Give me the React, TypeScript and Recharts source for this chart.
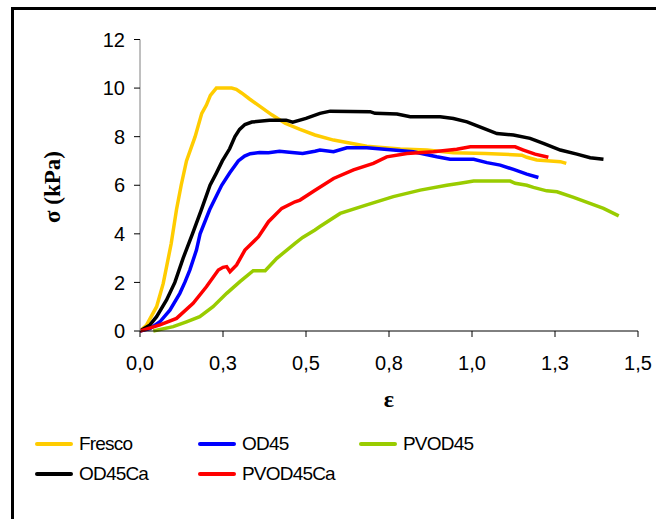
import React from 'react';
import { LineChart, Line, XAxis, YAxis } from 'recharts';

// Strain (ε) and stress σ (kPa) readings for each sample
const frescoEps = [0, 0.02, 0.05, 0.07, 0.094, 0.11, 0.124, 0.14, 0.166, 0.186, 0.2, 0.212, 0.23, 0.255, 0.276, 0.29, 0.306, 0.33, 0.356, 0.397, 0.437, 0.482, 0.527, 0.583, 0.683, 0.784, 0.864, 0.944, 1.04, 1.15, 1.165, 1.195, 1.236, 1.266, 1.284];
const frescoSigma = [0, 0.25, 1.0, 1.96, 3.6, 5.0, 6.0, 7.0, 8.0, 8.96, 9.3, 9.7, 10.0, 10.0, 10.0, 9.95, 9.8, 9.55, 9.3, 8.9, 8.55, 8.3, 8.07, 7.86, 7.61, 7.49, 7.45, 7.34, 7.31, 7.24, 7.15, 7.04, 7.0, 6.97, 6.9];

const od45Eps = [0, 0.03, 0.06, 0.09, 0.12, 0.135, 0.15, 0.17, 0.181, 0.21, 0.246, 0.27, 0.296, 0.315, 0.332, 0.36, 0.387, 0.42, 0.45, 0.49, 0.527, 0.542, 0.583, 0.623, 0.683, 0.763, 0.823, 0.894, 0.934, 1.005, 1.045, 1.085, 1.125, 1.165, 1.2];
const od45Sigma = [0, 0.1, 0.38, 0.86, 1.55, 2.0, 2.51, 3.33, 4.0, 5.0, 6.0, 6.5, 7.0, 7.2, 7.3, 7.35, 7.34, 7.4, 7.36, 7.31, 7.4, 7.45, 7.38, 7.54, 7.54, 7.45, 7.38, 7.17, 7.07, 7.07, 6.93, 6.83, 6.65, 6.46, 6.32];

const pvod45Eps = [0.04, 0.1, 0.14, 0.18, 0.22, 0.261, 0.301, 0.341, 0.377, 0.412, 0.467, 0.49, 0.527, 0.542, 0.603, 0.683, 0.763, 0.844, 0.924, 0.964, 1.005, 1.115, 1.13, 1.165, 1.185, 1.225, 1.256, 1.306, 1.396, 1.442];
const pvod45Sigma = [0, 0.18, 0.38, 0.59, 1.0, 1.55, 2.03, 2.48, 2.48, 2.99, 3.61, 3.85, 4.16, 4.3, 4.84, 5.19, 5.53, 5.8, 6.0, 6.08, 6.17, 6.17, 6.08, 6.0, 5.91, 5.77, 5.73, 5.5, 5.05, 4.74];

const od45CaEps = [0, 0.03, 0.05, 0.08, 0.105, 0.13, 0.158, 0.185, 0.211, 0.23, 0.248, 0.27, 0.286, 0.3, 0.316, 0.337, 0.39, 0.44, 0.46, 0.5, 0.542, 0.573, 0.693, 0.708, 0.774, 0.814, 0.904, 0.944, 0.985, 1.035, 1.075, 1.125, 1.175, 1.215, 1.266, 1.316, 1.356, 1.396];
const od45CaSigma = [0, 0.25, 0.59, 1.28, 2.0, 3.0, 4.0, 5.0, 6.0, 6.5, 7.0, 7.5, 8.0, 8.3, 8.5, 8.6, 8.68, 8.68, 8.6, 8.75, 8.96, 9.05, 9.03, 8.96, 8.93, 8.82, 8.82, 8.75, 8.61, 8.34, 8.13, 8.07, 7.93, 7.72, 7.45, 7.28, 7.13, 7.07];

const pvod45CaEps = [0, 0.06, 0.11, 0.16, 0.2, 0.236, 0.25, 0.261, 0.271, 0.291, 0.316, 0.357, 0.387, 0.427, 0.467, 0.482, 0.525, 0.583, 0.643, 0.703, 0.743, 0.804, 0.884, 0.954, 0.995, 1.005, 1.13, 1.155, 1.19, 1.23];
const pvod45CaSigma = [0, 0.25, 0.52, 1.14, 1.82, 2.51, 2.62, 2.65, 2.44, 2.72, 3.33, 3.88, 4.5, 5.05, 5.32, 5.39, 5.77, 6.28, 6.63, 6.9, 7.17, 7.31, 7.38, 7.48, 7.58, 7.58, 7.58, 7.45, 7.28, 7.15];

const seriesNames = ['Fresco', 'OD45', 'PVOD45', 'OD45Ca', 'PVOD45Ca'];
const seriesColors = ['#FFCC00', '#0000FF', '#99CC00', '#000000', '#FF0000'];

const xTicks = [0, 0.25, 0.5, 0.75, 1.0, 1.25, 1.5];
const xTickLabels = ['0,0', '0,3', '0,5', '0,8', '1,0', '1,3', '1,5'];
const yTicks = [0, 2, 4, 6, 8, 10, 12];

const pair = (eps: number[], sigma: number[]) => eps.map((e, i) => ({ eps: e, sigma: sigma[i] }));

const seriesData = [
  pair(frescoEps, frescoSigma),
  pair(od45Eps, od45Sigma),
  pair(pvod45Eps, pvod45Sigma),
  pair(od45CaEps, od45CaSigma),
  pair(pvod45CaEps, pvod45CaSigma),
];

const sans = '"Liberation Sans", Arial, sans-serif';
const serif = '"Liberation Serif", "Times New Roman", serif';

// legend grid: 3 columns, 2 rows
const legendCols = [35, 198, 359];
const legendRows = [444, 474];

export default function App() {
  return (
    <div style={{ position: 'absolute', left: 0, top: 0, width: 656, height: 519, background: '#fff', overflow: 'hidden' }}>
      <div
        style={{
          position: 'absolute',
          left: 11,
          top: 7,
          width: 700,
          height: 600,
          borderLeft: '3px solid #000',
          borderTop: '3px solid #000',
        }}
      />
      <div style={{ position: 'absolute', left: 0, top: 0 }}>
        <LineChart width={656} height={519} margin={{ top: 39.5, right: 18, left: 80, bottom: 158 }}>
          <XAxis
            type="number"
            dataKey="eps"
            domain={[0, 1.5]}
            ticks={xTicks}
            tickFormatter={(v: number) => xTickLabels[xTicks.indexOf(v)] ?? ''}
            allowDataOverflow
            height={30}
            axisLine={{ stroke: '#000', strokeWidth: 1 }}
            tickLine={{ stroke: '#000', strokeWidth: 1 }}
            tickSize={6}
            tickMargin={19}
            tick={{ fill: '#000', fontSize: 20, fontFamily: sans }}
            label={{
              content: (props: any) => {
                const vb = props.viewBox;
                return (
                  <text x={vb.x + vb.width / 2} y={407} textAnchor="middle" fontFamily={serif} fontWeight="bold" fontSize={24} fill="#000">
                    ε
                  </text>
                );
              },
            }}
          />
          <YAxis
            type="number"
            domain={[0, 12]}
            ticks={yTicks}
            width={60}
            axisLine={{ stroke: '#808080', strokeWidth: 1 }}
            tickLine={{ stroke: '#000', strokeWidth: 1 }}
            tickSize={6}
            tickMargin={9}
            tick={{ fill: '#000', fontSize: 20, fontFamily: sans }}
            label={{
              content: () => (
                <text
                  x={52}
                  y={187}
                  transform="rotate(-90 52 187)"
                  textAnchor="middle"
                  dominantBaseline="central"
                  fontFamily={serif}
                  fontWeight="bold"
                  fontSize={23}
                  fill="#000"
                >
                  σ (kPa)
                </text>
              ),
            }}
          />
          {seriesData.map((d, i) => (
            <Line
              key={seriesNames[i]}
              data={d}
              dataKey="sigma"
              name={seriesNames[i]}
              type="linear"
              stroke={seriesColors[i]}
              strokeWidth={3.5}
              dot={false}
              activeDot={false}
              isAnimationActive={false}
            />
          ))}
        </LineChart>
      </div>
      {seriesNames.map((name, i) => {
        const col = legendCols[i % 3];
        const row = legendRows[Math.floor(i / 3)];
        return (
          <div key={name} style={{ position: 'absolute', left: col, top: row - 12, height: 24, display: 'flex', alignItems: 'center' }}>
            <div style={{ width: 38, height: 3.5, background: seriesColors[i], borderRadius: 2 }} />
            <span style={{ marginLeft: 6, fontFamily: sans, fontSize: 19, letterSpacing: -0.8, color: '#000', lineHeight: '24px' }}>{name}</span>
          </div>
        );
      })}
    </div>
  );
}
